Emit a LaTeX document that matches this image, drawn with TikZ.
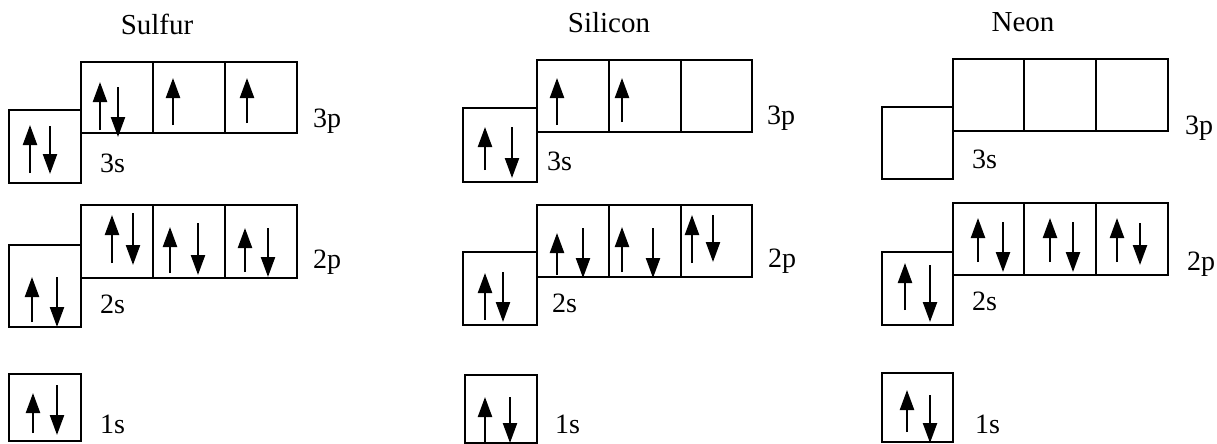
\documentclass[tikz,border=0pt]{standalone}
\usepackage{fontspec}
\setmainfont{Liberation Serif}
\usetikzlibrary{arrows.meta}
\begin{document}
\begin{tikzpicture}[x=1pt,y=-1pt,
  orb/.style={draw=black,line width=2.4pt,rectangle,inner sep=0pt},
  elec/.style={line width=2.3pt,-{Triangle[width=14pt,length=20pt]}},
  lbl/.style={anchor=base west,inner sep=0pt,font=\fontsize{28}{32}\selectfont},
  ttl/.style={anchor=base,inner sep=0pt,font=\fontsize{29}{34}\selectfont}]
\useasboundingbox (0,0) rectangle (1217,444);
% ---------------- titles
\node[ttl] (tS) at (157,35) {Sulfur};
\node[ttl] (tSi) at (609,33) {Silicon};
\node[ttl] (tN) at (1023,32) {Neon};
% ---------------- Sulfur boxes
\node[orb,minimum width=72pt,minimum height=73pt] (S3s) at (45,146.5) {};
\node[orb,minimum width=72pt,minimum height=71pt] (S3pa) at (117,97.5) {};
\node[orb,minimum width=72pt,minimum height=71pt] (S3pb) at (189,97.5) {};
\node[orb,minimum width=72pt,minimum height=71pt] (S3pc) at (261,97.5) {};
\node[orb,minimum width=72pt,minimum height=82pt] (S2s) at (45,286) {};
\node[orb,minimum width=72pt,minimum height=73pt] (S2pa) at (117,241.5) {};
\node[orb,minimum width=72pt,minimum height=73pt] (S2pb) at (189,241.5) {};
\node[orb,minimum width=72pt,minimum height=73pt] (S2pc) at (261,241.5) {};
\node[orb,minimum width=72pt,minimum height=67pt] (S1s) at (45,407.5) {};
% ---------------- Silicon boxes
\node[orb,minimum width=74pt,minimum height=74pt] (Si3s) at (500,145) {};
\node[orb,minimum width=72pt,minimum height=72pt] (Si3pa) at (573,96) {};
\node[orb,minimum width=72pt,minimum height=72pt] (Si3pb) at (645,96) {};
\node[orb,minimum width=71pt,minimum height=72pt] (Si3pc) at (716.5,96) {};
\node[orb,minimum width=74pt,minimum height=73pt] (Si2s) at (500,288.5) {};
\node[orb,minimum width=72pt,minimum height=72pt] (Si2pa) at (573,241) {};
\node[orb,minimum width=72pt,minimum height=72pt] (Si2pb) at (645,241) {};
\node[orb,minimum width=71pt,minimum height=72pt] (Si2pc) at (716.5,241) {};
\node[orb,minimum width=72pt,minimum height=68pt] (Si1s) at (501,409) {};
% ---------------- Neon boxes
\node[orb,minimum width=71pt,minimum height=72pt] (N3s) at (917.5,143) {};
\node[orb,minimum width=71pt,minimum height=72pt] (N3pa) at (988.5,95) {};
\node[orb,minimum width=72pt,minimum height=72pt] (N3pb) at (1060,95) {};
\node[orb,minimum width=72pt,minimum height=72pt] (N3pc) at (1132,95) {};
\node[orb,minimum width=71pt,minimum height=73pt] (N2s) at (917.5,288.5) {};
\node[orb,minimum width=71pt,minimum height=72pt] (N2pa) at (988.5,239) {};
\node[orb,minimum width=72pt,minimum height=72pt] (N2pb) at (1060,239) {};
\node[orb,minimum width=72pt,minimum height=72pt] (N2pc) at (1132,239) {};
\node[orb,minimum width=71pt,minimum height=69pt] (N1s) at (917.5,407.5) {};
% ---------------- labels
\node[lbl] (lS3s) at (100,172) {3s};
\node[lbl] (lS3p) at (313,127) {3p};
\node[lbl] (lS2s) at (100,313) {2s};
\node[lbl] (lS2p) at (313,268) {2p};
\node[lbl] (lS1s) at (100,433) {1s};
\node[lbl] (lSi3s) at (547,170) {3s};
\node[lbl] (lSi3p) at (767,124) {3p};
\node[lbl] (lSi2s) at (552,312) {2s};
\node[lbl] (lSi2p) at (768,267) {2p};
\node[lbl] (lSi1s) at (555,433) {1s};
\node[lbl] (lN3s) at (972,168) {3s};
\node[lbl] (lN3p) at (1185,134) {3p};
\node[lbl] (lN2s) at (972,310) {2s};
\node[lbl] (lN2p) at (1187,270) {2p};
\node[lbl] (lN1s) at (975,433) {1s};
% ---------------- electrons: Sulfur
\draw[elec] (30,173) -- (30,125);   \draw[elec] (50,126) -- (50,174);
\draw[elec] (100,130) -- (100,82);  \draw[elec] (118,87) -- (118,137);
\draw[elec] (173,125) -- (173,78);
\draw[elec] (247,123) -- (247,78);
\draw[elec] (32,322) -- (32,277);   \draw[elec] (57,277) -- (57,327);
\draw[elec] (112,263) -- (112,215); \draw[elec] (133,213) -- (133,265);
\draw[elec] (170,273) -- (170,227); \draw[elec] (198,223) -- (198,275);
\draw[elec] (245,272) -- (245,228); \draw[elec] (268,228) -- (268,277);
\draw[elec] (33,433) -- (33,393);   \draw[elec] (57,385) -- (57,435);
% ---------------- electrons: Silicon
\draw[elec] (485,170) -- (485,127); \draw[elec] (512,127) -- (512,178);
\draw[elec] (557,125) -- (557,78);
\draw[elec] (622,122) -- (622,78);
\draw[elec] (485,320) -- (485,273); \draw[elec] (503,272) -- (503,322);
\draw[elec] (557,275) -- (557,233); \draw[elec] (583,228) -- (583,278);
\draw[elec] (622,272) -- (622,227); \draw[elec] (653,228) -- (653,278);
\draw[elec] (692,263) -- (692,215); \draw[elec] (713,215) -- (713,262);
\draw[elec] (485,443) -- (485,397); \draw[elec] (510,397) -- (510,443);
% ---------------- electrons: Neon
\draw[elec] (905,310) -- (905,263);   \draw[elec] (930,265) -- (930,322);
\draw[elec] (978,262) -- (978,218);   \draw[elec] (1003,222) -- (1003,272);
\draw[elec] (1050,262) -- (1050,218); \draw[elec] (1073,222) -- (1073,272);
\draw[elec] (1117,262) -- (1117,218); \draw[elec] (1140,223) -- (1140,265);
\draw[elec] (907,432) -- (907,390);   \draw[elec] (930,395) -- (930,443);
\end{tikzpicture}
\end{document}
